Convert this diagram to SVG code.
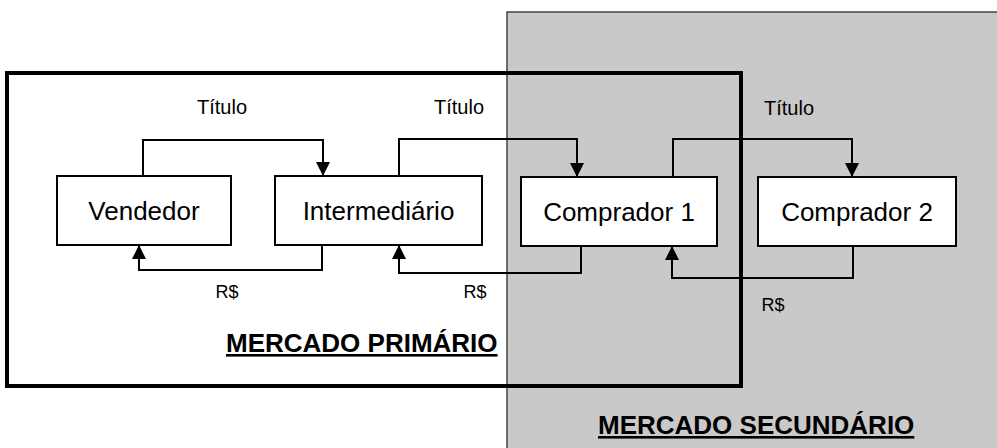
<svg xmlns="http://www.w3.org/2000/svg" width="997" height="448" viewBox="0 0 997 448">
<style>
.node rect{fill:#fff;stroke:#000;stroke-width:2}
.node text{font-family:"Liberation Sans",Arial,sans-serif;font-size:26px;text-anchor:middle;fill:#000}
.conn path{fill:none;stroke:#000;stroke-width:2;marker-end:url(#arr)}
.lbl{font-family:"Liberation Sans",Arial,sans-serif;font-size:20px;text-anchor:middle;fill:#000}
.rs{font-size:18px}
.title{font-family:"Liberation Sans",Arial,sans-serif;font-size:26px;font-weight:bold;text-decoration:underline;fill:#000}
</style>
<defs>
<marker id="arr" markerUnits="userSpaceOnUse" markerWidth="14" markerHeight="14" refX="14" refY="7" orient="auto">
<path d="M0,0 L14,7 L0,14 z" fill="#000"/>
</marker>
</defs>
<rect x="0" y="0" width="997" height="448" fill="#fff"/>
<g id="secundario">
<rect x="507" y="12" width="492" height="440" fill="#c9c9c9" stroke="#444" stroke-width="1.5"/>
<text class="title" x="598" y="434">MERCADO SECUNDÁRIO</text>
</g>
<g id="primario">
<rect x="7" y="73" width="734" height="313" fill="none" stroke="#000" stroke-width="4"/>
<text class="title" x="226" y="352">MERCADO PRIMÁRIO</text>
</g>
<g id="vendedor" class="node"><rect x="57" y="176" width="174" height="69"/><text x="144" y="220">Vendedor</text></g>
<g id="intermediario" class="node"><rect x="275" y="176" width="207" height="69"/><text x="378.5" y="220">Intermediário</text></g>
<g id="comprador1" class="node"><rect x="521" y="177" width="196" height="69"/><text x="619" y="221">Comprador 1</text></g>
<g id="comprador2" class="node"><rect x="758" y="177" width="198" height="69"/><text x="857" y="221">Comprador 2</text></g>
<g id="connectors" class="conn">
<path d="M143,176 V140 H323 V176"/>
<path d="M399,176 V139 H577 V177"/>
<path d="M673,177 V139 H852 V177"/>
<path d="M322,245 V270 H139 V245"/>
<path d="M581,246 V273 H399 V245"/>
<path d="M853,246 V278 H672 V246"/>
</g>
<g id="labels">
<text class="lbl" x="222" y="114">Título</text>
<text class="lbl" x="459" y="114">Título</text>
<text class="lbl" x="789" y="115">Título</text>
<text class="lbl rs" x="227" y="298">R$</text>
<text class="lbl rs" x="475" y="298">R$</text>
<text class="lbl rs" x="773" y="311">R$</text>
</g>
</svg>
